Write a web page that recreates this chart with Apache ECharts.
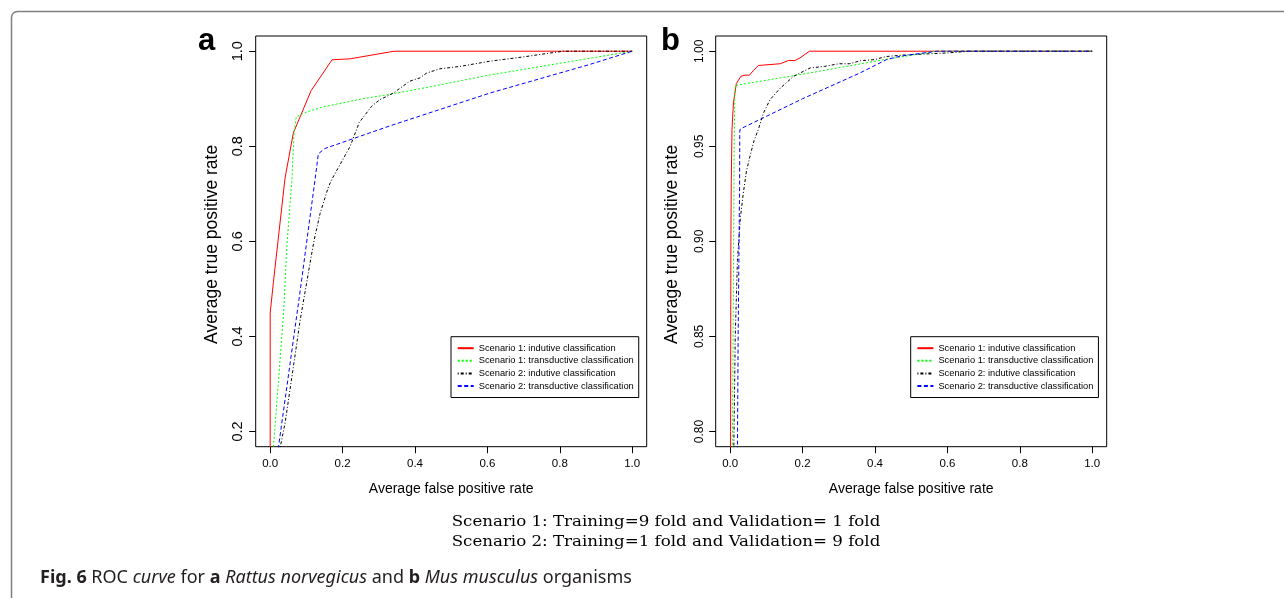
<!DOCTYPE html>
<html>
<head>
<meta charset="utf-8">
<style>
html, body { margin: 0; padding: 0; background: #fff; }
#main { width: 1284px; height: 598px; }
</style>
<script src="https://cdn.jsdelivr.net/npm/echarts@6/dist/echarts.min.js"></script>
</head>
<body>
<div id="main"></div>
<script>
var names = [
    'Scenario 1: indutive classification',
    'Scenario 1: transductive classification',
    'Scenario 2: indutive classification',
    'Scenario 2: transductive classification'
];
var xTicks = [0, 0.2, 0.4, 0.6, 0.8, 1.0];
var yTicksA = [0.2, 0.4, 0.6, 0.8, 1.0];
var yTicksB = [0.80, 0.85, 0.90, 0.95, 1.00];

// panel a : Rattus norvegicus  [fpr, tpr]
var redA = [[0,0],[0,0.449],[0.009,0.515],[0.041,0.733],[0.064,0.828],[0.113,0.917],[0.171,0.982],[0.221,0.984],[0.342,1.0],[1,1]];
var greenA = [[0,0],[0.009,0.168],[0.023,0.308],[0.037,0.449],[0.046,0.589],[0.060,0.730],[0.066,0.83],[0.072,0.862],[0.10,0.872],[0.147,0.883],[0.25,0.899],[0.342,0.911],[0.414,0.921],[0.607,0.950],[0.882,0.985],[1,1]];
var blackA = [[0,0],[0.028,0.168],[0.041,0.217],[0.064,0.336],[0.083,0.435],[0.110,0.554],[0.122,0.605],[0.138,0.659],[0.161,0.715],[0.170,0.730],[0.221,0.80],[0.246,0.85],[0.280,0.884],[0.303,0.898],[0.340,0.912],[0.386,0.937],[0.414,0.944],[0.432,0.954],[0.469,0.963],[0.524,0.968],[0.607,0.979],[0.699,0.988],[0.79,0.998],[0.81,1.0],[1,1]];
var blueA = [[0,0],[0.023,0.168],[0.055,0.343],[0.087,0.519],[0.108,0.64],[0.124,0.730],[0.133,0.784],[0.150,0.795],[0.331,0.843],[0.607,0.912],[0.882,0.972],[1,1]];

// panel b : Mus musculus
var redB = [[0,0],[0.001,0.80],[0.002,0.90],[0.003,0.931],[0.005,0.9587],[0.009,0.9728],[0.017,0.983],[0.0295,0.9868],[0.041,0.9874],[0.053,0.9874],[0.064,0.9898],[0.078,0.9925],[0.138,0.9934],[0.161,0.9951],[0.179,0.9951],[0.193,0.9965],[0.219,1.0],[1,1]];
var greenB = [[0,0],[0.006,0.79],[0.009,0.88],[0.011,0.95],[0.0125,0.975],[0.014,0.982],[0.221,0.9886],[0.423,0.9955],[0.515,0.9983],[0.57,1.0],[1,1]];
var blackB = [[0,0],[0.010,0.79],[0.014,0.85],[0.020,0.89],[0.028,0.912],[0.036,0.925],[0.045,0.937],[0.055,0.945],[0.066,0.953],[0.078,0.959],[0.092,0.9675],[0.11,0.9745],[0.138,0.9805],[0.175,0.9868],[0.221,0.9912],[0.26,0.992],[0.30,0.9934],[0.33,0.9934],[0.36,0.995],[0.40,0.9956],[0.43,0.9972],[0.48,0.998],[0.6,0.9991],[0.66,1.0],[1,1]];
var blueB = [[0,0],[0.020,0.79],[0.022,0.85],[0.025,0.91],[0.026,0.93],[0.0265,0.958],[0.028,0.9591],[0.2,0.975],[0.359,0.9886],[0.432,0.9956],[0.47,0.9974],[0.57,1.0],[1,1]];

var colors = ['#ff0000', '#00ff00', '#000000', '#0000ff'];
var dashes = ['solid', [2, 2], [1, 2, 3, 2], [4, 2.5]];
var sans = 'Liberation Sans, Arial, sans-serif';

function mkSeries(name, i, data, panel) {
    return {
        name: name,
        type: 'line',
        xAxisIndex: panel,
        yAxisIndex: panel,
        data: data,
        showSymbol: false,
        symbol: 'none',
        clip: true,
        lineStyle: { color: colors[i], width: 1, type: dashes[i] },
        itemStyle: { color: colors[i] }
    };
}

function mkX(panel) {
    return {
        type: 'value', gridIndex: panel, min: -0.04, max: 1.04,
        axisLine: { show: false, onZero: false },
        splitLine: { show: false },
        axisTick: { show: true, customValues: xTicks, length: 6.5, lineStyle: { color: '#000' } },
        axisLabel: { customValues: xTicks, formatter: function (v) { return v.toFixed(1); },
            fontSize: 11.5, color: '#000', margin: 11, fontFamily: sans },
        name: 'Average false positive rate', nameLocation: 'middle', nameGap: 35,
        nameTextStyle: { fontSize: 14, color: '#000', fontFamily: sans }
    };
}

function mkY(panel, ticks, lo, hi, digits, fs) {
    return {
        type: 'value', gridIndex: panel, min: lo, max: hi,
        axisLine: { show: false, onZero: false },
        splitLine: { show: false },
        axisTick: { show: true, customValues: ticks, length: 6.5, lineStyle: { color: '#000' } },
        axisLabel: { customValues: ticks, formatter: function (v) { return v.toFixed(digits); },
            rotate: 90, fontSize: fs, color: '#000', margin: 10, fontFamily: sans },
        name: 'Average true positive rate', nameLocation: 'middle', nameGap: 35, nameRotate: 90,
        nameTextStyle: { fontSize: 17.5, color: '#000', fontFamily: sans, padding: [0, 6, 0, 0] }
    };
}

function mkLegend(left) {
    return {
        data: names, orient: 'vertical', left: left, top: 336.7,
        itemWidth: 16, itemHeight: 9, itemGap: 3.6,
        padding: [7, 5, 7, 5.7],
        borderColor: '#000', borderWidth: 1, selectedMode: false,
        itemStyle: { opacity: 0 },
        textStyle: { fontSize: 9.3, color: '#000', fontFamily: sans }
    };
}

var option = {
    backgroundColor: '#fff',
    animation: false,
    grid: [
        { left: 255.7, top: 36, width: 391, height: 410.7, show: true, borderColor: '#000', borderWidth: 1, containLabel: false },
        { left: 715.7, top: 36, width: 391, height: 410.7, show: true, borderColor: '#000', borderWidth: 1, containLabel: false }
    ],
    xAxis: [mkX(0), mkX(1)],
    yAxis: [mkY(0, yTicksA, 0.168, 1.032, 1, 14.5), mkY(1, yTicksB, 0.792, 1.008, 2, 12)],
    legend: [mkLegend(451), mkLegend(910.7)],
    series: [
        mkSeries(names[0], 0, redA, 0),
        mkSeries(names[1], 1, greenA, 0),
        mkSeries(names[2], 2, blackA, 0),
        mkSeries(names[3], 3, blueA, 0),
        mkSeries(names[0], 0, redB, 1),
        mkSeries(names[1], 1, greenB, 1),
        mkSeries(names[2], 2, blackB, 1),
        mkSeries(names[3], 3, blueB, 1)
    ],
    graphic: [
        { type: 'rect', shape: { x: 11.5, y: 11.5, width: 1320, height: 700, r: 6 },
          style: { fill: 'none', stroke: '#808080', lineWidth: 1.5 }, silent: true },
        { type: 'text', x: 198, y: 41, style: { text: 'a', font: 'bold 31px ' + sans, fill: '#000', verticalAlign: 'middle' } },
        { type: 'text', x: 661, y: 41, style: { text: 'b', font: 'bold 31px ' + sans, fill: '#000', verticalAlign: 'middle' } },
        { type: 'text', x: 666, y: 522, scaleX: 1.11, style: { text: 'Scenario 1: Training=9 fold and Validation= 1 fold',
            font: '15px DejaVu Serif, serif', fill: '#000', align: 'center', verticalAlign: 'middle' } },
        { type: 'text', x: 666, y: 542, scaleX: 1.11, style: { text: 'Scenario 2: Training=1 fold and Validation= 9 fold',
            font: '15px DejaVu Serif, serif', fill: '#000', align: 'center', verticalAlign: 'middle' } },
        { type: 'text', x: 40, y: 578, style: {
            text: '{b|Fig. 6} ROC {i|curve} for {b|a} {i|Rattus norvegicus} and {b|b} {i|Mus musculus} organisms',
            fontSize: 18, fontFamily: 'Noto Sans, sans-serif', fill: '#231f20', verticalAlign: 'middle',
            rich: {
                b: { fontWeight: 'bold', fontSize: 18, fontFamily: 'Noto Sans, sans-serif', fill: '#231f20' },
                i: { fontStyle: 'italic', fontSize: 18, fontFamily: 'Noto Sans, sans-serif', fill: '#231f20' }
            } } }
    ]
};

echarts.init(document.getElementById('main')).setOption(option);
</script>
</body>
</html>
